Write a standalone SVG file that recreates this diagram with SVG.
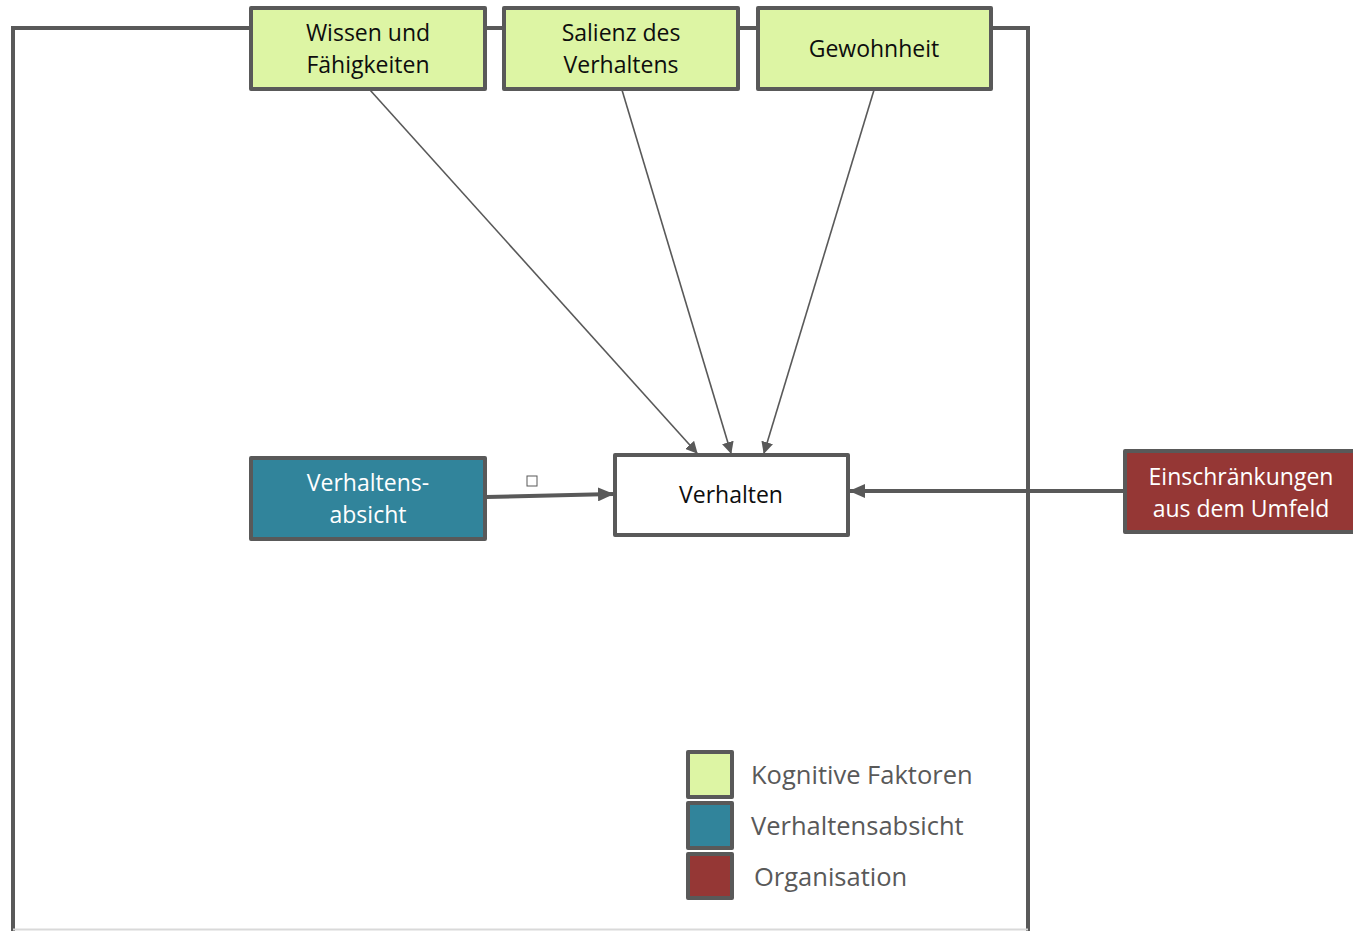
<svg xmlns="http://www.w3.org/2000/svg" width="1353" height="931" viewBox="0 0 1353 931">
<defs>
<style>
.box{stroke:#595959;stroke-width:4;stroke-linejoin:round}
.green{fill:#DDF5A4}
.blue{fill:#31849B}
.red{fill:#953735}
.white{fill:#FFFFFF}
text{font-family:"Open Sans","Noto Sans",sans-serif;font-size:23px;text-anchor:middle}
.dark{fill:#0D0D0D}
.light{fill:#FFFFFF}
.legend{fill:#595959;font-size:25.5px;text-anchor:start}
.thin{stroke:#595959;stroke-width:1.6;fill:none}
.thick{stroke:#595959;stroke-width:4;fill:none}
</style>
<marker id="ah" markerWidth="12" markerHeight="12" refX="11" refY="6" orient="auto" markerUnits="userSpaceOnUse">
<path d="M0,0 L12,6 L0,12 Z" fill="#595959"/>
</marker>
<marker id="ahb" markerWidth="16" markerHeight="14" refX="15" refY="7" orient="auto" markerUnits="userSpaceOnUse">
<path d="M0,0 L16,7 L0,14 Z" fill="#595959"/>
</marker>
</defs>
<rect width="1353" height="931" fill="#FFFFFF"/>
<g id="frame">
<path d="M13,931 L13,28 L1028,28 L1028,931" fill="none" stroke="#595959" stroke-width="4"/>
<line x1="13" y1="929.5" x2="1028" y2="929.5" stroke="#D9D9D9" stroke-width="2"/>
</g>
<g id="connectors">
<line class="thin" x1="370" y1="90" x2="697" y2="453" marker-end="url(#ah)"/>
<line class="thin" x1="622" y1="90" x2="731" y2="453" marker-end="url(#ah)"/>
<line class="thin" x1="874" y1="90" x2="764" y2="453" marker-end="url(#ah)"/>
<line class="thick" x1="486" y1="497" x2="613" y2="494" marker-end="url(#ahb)"/>
<line class="thick" x1="1125" y1="491" x2="850" y2="491" marker-end="url(#ahb)"/>
</g>
<g id="node-wissen">
<rect class="box green" x="251" y="8" width="234" height="81"/>
<text class="dark" x="368" y="41">Wissen und</text>
<text class="dark" x="368" y="73">Fähigkeiten</text>
</g>
<g id="node-salienz">
<rect class="box green" x="504" y="8" width="234" height="81"/>
<text class="dark" x="621" y="41">Salienz des</text>
<text class="dark" x="621" y="73">Verhaltens</text>
</g>
<g id="node-gewohnheit">
<rect class="box green" x="758" y="8" width="233" height="81"/>
<text class="dark" x="874" y="57">Gewohnheit</text>
</g>
<g id="node-absicht">
<rect class="box blue" x="251" y="458" width="234" height="81"/>
<text class="light" x="368" y="491">Verhaltens-</text>
<text class="light" x="368" y="523">absicht</text>
</g>
<g id="node-verhalten">
<rect class="box white" x="615" y="455" width="233" height="80"/>
<text class="dark" x="731" y="503">Verhalten</text>
</g>
<g id="node-einschraenkungen">
<rect class="box red" x="1125" y="451" width="232" height="81"/>
<text class="light" x="1241" y="485">Einschränkungen</text>
<text class="light" x="1241" y="517">aus dem Umfeld</text>
</g>
<g id="handle">
<rect x="527" y="476" width="10" height="10" fill="#FFFFFF" stroke="#595959" stroke-width="1"/>
</g>
<g id="legend">
<rect class="box green" x="688" y="752" width="44" height="45"/>
<rect class="box blue" x="688" y="803" width="44" height="45"/>
<rect class="box red" x="688" y="854" width="44" height="44"/>
<text class="legend" x="751" y="784">Kognitive Faktoren</text>
<text class="legend" x="751" y="835">Verhaltensabsicht</text>
<text class="legend" x="754" y="886">Organisation</text>
</g>
</svg>
